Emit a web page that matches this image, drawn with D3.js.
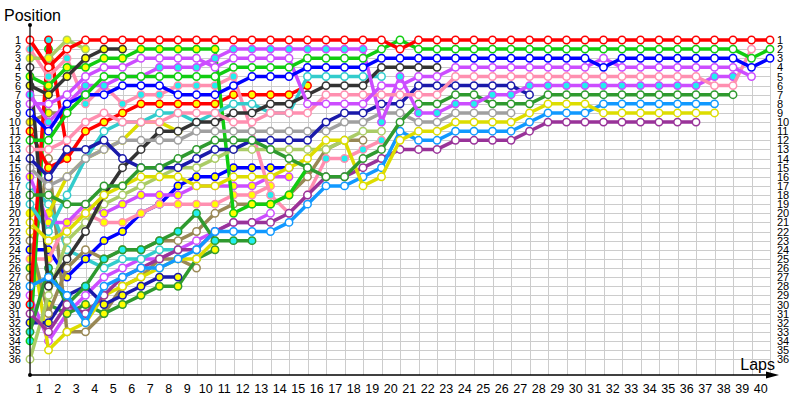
<!DOCTYPE html>
<meta charset="utf-8">
<style>
body { margin: 0; background: #fff; }
text { font-family: "Liberation Sans", Arial, sans-serif; fill: #000; }
.grid line { stroke: #cccccc; stroke-width: 1; shape-rendering: crispEdges; }
</style>
<body>
<svg width="800" height="400"></svg>
<script src="https://d3js.org/d3.v7.min.js"></script>
<script>

// lap labels on the x axis and position labels on both sides
var lapLabels = [1,2,3,4,5,6,7,8,9,10,11,12,13,14,15,16,17,18,19,20,
                 21,22,23,24,25,26,27,28,29,30,31,32,33,34,35,36,37,38,39,40];
var posLabels = [1,2,3,4,5,6,7,8,9,10,11,12,13,14,15,16,17,18,
                 19,20,21,22,23,24,25,26,27,28,29,30,31,32,33,34,35,36];

// position of each car at the start (index 0) and after every lap
var red      = [1,4,2,1,1,1,1,1,1,1,1,1,1,1,1,1,1,1,1,1,2,1,1,1,1,1,1,1,1,1,1,1,1,1,1,1,1,1,1,1,1];
var green    = [12,12,9,7,5,5,5,5,5,5,5,4,4,4,4,3,3,3,3,2,1,2,2,2,2,2,2,2,2,2,2,2,2,2,2,2,2,2,2,3,2];
var blue     = [9,11,8,7,7,6,6,6,7,7,7,6,5,5,5,4,4,4,4,3,3,3,3,3,3,3,3,3,3,3,3,4,3,3,3,3,3,3,3,4,3];
var violet   = [8,8,7,5,4,4,3,3,3,3,4,3,3,3,3,8,8,8,8,6,6,5,5,4,4,4,4,4,4,4,4,3,4,4,4,4,4,4,4,5];
var pink     = [13,13,12,10,9,10,10,10,9,9,9,10,10,9,9,9,7,7,7,7,7,7,7,5,5,5,5,5,5,5,5,5,5,5,5,5,5,6,6,2];
var violetC  = [7,10,8,6,6,5,5,4,4,4,3,2,2,2,2,2,2,2,2,10,5,9,9,8,8,7,7,6,6,6,6,6,6,6,6,6,6,5,5];
var forest   = [18,18,19,19,17,17,15,15,14,13,12,12,12,13,14,15,16,16,14,13,10,8,8,7,7,8,8,8,7,7,7,7,7,7,7,7,7,7,7];
var yellow   = [21,23,22,20,18,17,16,16,16,17,17,16,16,16,15,14,12,12,17,16,12,11,11,10,10,10,10,9,8,8,8,9,9,9,9,9,9,9];
var sky      = [28,27,29,32,28,27,26,26,25,24,22,22,22,22,21,19,17,17,16,15,11,12,12,11,11,11,11,10,9,9,9,8,8,8,8,8,8,8];
var plum     = [31,33,30,31,29,27,26,25,24,24,22,21,21,21,20,18,16,16,15,14,13,13,13,12,12,12,12,11,10,10,10,10,10,10,10,10,10];
var navy     = [14,16,13,13,12,14,15,15,15,14,13,13,12,12,12,12,10,9,9,8,8,6,6,6,6,6,6,7];
var grey     = [15,17,16,14,13,12,12,12,12,11,11,11,11,11,11,11,11,10,10,9,9,10,10,9,9,9,9];
var black    = [4,28,25,22,18,15,13,11,11,10,10,9,9,8,8,7,6,6,6,4,4,4,4];
var teal     = [19,22,18,14,11,10,10,9,9,10,9,8,8,9,9,5,5,5,5,5];
var olive    = [36,29,23,21,19,18,17,16,15,15,14,13,13,13,13,13,13,12,11,11];
var oliveY   = [3,3,1,2];
var blackY   = [6,7,5,3,2,2];
var greenY   = [5,6,4,4,3,3,2,2,2,2,2,20,19,19,18,15];
var pinkC    = [2,5,3,8,6,8,7,7,6,6,6,5,11,18,20,18,14,14,13,12];
var redY     = [11,15,14,11,10,9,8,8,8,8,8,7,7,7,7,6];
var redC     = [30,1,13];
var forestC  = [33,26,30,28,25,24,24,23,22,20,23,23,23];
var greenC   = [34,2];
var khaki    = [23,31,26,24,25,24,24,23,23,22,20,19,19,19,18,16,13,12,12];
var khakiY   = [10,9,9];
var violetY  = [16,21,21,19,20,19,18,18,18,17,17,17,17,16,16];
var yellowY  = [20,20,16,14,13,12,10,10,11];
var pinkY    = [25,25,21,20,21,21,20,19,19,19,19,18,18,17];
var navyY    = [32,32,29,28,30,29,28,27,27];
var blueY    = [24,24,27,25,23,22,20,19,17,16,16,15,15,15,15];
var teal2    = [17,19,24,25,26,25,25,24,24];
var yellow2  = [22,35,33,32,29,28,27,26,25,25,23];
var forestY  = [26,30,31,30,31,30,29,28,28,25,24];
var khaki2   = [27,14,33,33,31,28,27,25,25,26];
var violet2  = [29,34,31,29,27,26,25,25,24,23,22,21,21,20];

var W = "#ffffff", YF = "#ffff00", CF = "#22eeee";
var series = [
  {pos: red, stroke: "#ff0000", fill: W},
  {pos: green, stroke: "#11cc11", fill: W},
  {pos: blue, stroke: "#0000ff", fill: W},
  {pos: violet, stroke: "#cc4dff", fill: W},
  {pos: pink, stroke: "#ff8fb0", fill: W},
  {pos: violetC, stroke: "#cc4dff", fill: CF},
  {pos: forest, stroke: "#2f9a2f", fill: W},
  {pos: yellow, stroke: "#dddd00", fill: W},
  {pos: sky, stroke: "#1199ff", fill: W},
  {pos: plum, stroke: "#993399", fill: W},
  {pos: navy, stroke: "#1a1aaa", fill: W},
  {pos: grey, stroke: "#a0a0a0", fill: W},
  {pos: black, stroke: "#333333", fill: W},
  {pos: teal, stroke: "#33cccc", fill: W},
  {pos: olive, stroke: "#aacc66", fill: W},
  {pos: oliveY, stroke: "#aacc66", fill: YF},
  {pos: blackY, stroke: "#333333", fill: YF},
  {pos: greenY, stroke: "#11cc11", fill: YF},
  {pos: pinkC, stroke: "#ff8fb0", fill: CF},
  {pos: redY, stroke: "#ff0000", fill: YF},
  {pos: redC, stroke: "#ff0000", fill: CF},
  {pos: forestC, stroke: "#2f9a2f", fill: CF},
  {pos: greenC, stroke: "#11cc11", fill: CF},
  {pos: khaki, stroke: "#998855", fill: W},
  {pos: khakiY, stroke: "#998855", fill: YF},
  {pos: violetY, stroke: "#cc4dff", fill: YF},
  {pos: yellowY, stroke: "#dddd00", fill: YF},
  {pos: pinkY, stroke: "#ff8fb0", fill: YF},
  {pos: navyY, stroke: "#1a1aaa", fill: YF},
  {pos: blueY, stroke: "#0000ff", fill: YF},
  {pos: teal2, stroke: "#33cccc", fill: W},
  {pos: yellow2, stroke: "#dddd00", fill: W},
  {pos: forestY, stroke: "#2f9a2f", fill: YF},
  {pos: khaki2, stroke: "#998855", fill: W},
  {pos: violet2, stroke: "#cc4dff", fill: W}
];

var svg = d3.select("svg");

var x = d3.scaleLinear().domain([0, 40]).range([30, 770]);
var y = d3.scaleLinear().domain([1, 36]).range([40, 359.2]);
var band = d3.scaleBand().domain(lapLabels).range([30, 770]);

// grid
var grid = svg.append("g").attr("class", "grid");
grid.selectAll(".h").data(posLabels).join("line")
  .attr("x1", x(0)).attr("x2", x(40))
  .attr("y1", d => Math.round(y(d)) + 0.5).attr("y2", d => Math.round(y(d)) + 0.5);
grid.selectAll(".v").data([0].concat(lapLabels)).join("line")
  .attr("x1", d => Math.round(x(d)) + 0.5).attr("x2", d => Math.round(x(d)) + 0.5)
  .attr("y1", y(1)).attr("y2", 375);

// position labels
svg.append("g")
  .attr("transform", "translate(21,0)")
  .call(d3.axisLeft(y).tickValues(posLabels).tickSize(0).tickPadding(0))
  .call(g => g.select(".domain").remove())
  .selectAll("text").style("font-size", "11px").attr("fill", "#000");
svg.append("g")
  .attr("transform", "translate(777,0)")
  .call(d3.axisRight(y).tickValues(posLabels).tickSize(0).tickPadding(0))
  .call(g => g.select(".domain").remove())
  .selectAll("text").style("font-size", "11px").attr("fill", "#000");

// race lines, leaders drawn last so they sit on top
var line = d3.line().defined(d => d != null).x((d, i) => x(i)).y(d => y(d));
series.slice().reverse().forEach(function(s) {
  var g = svg.append("g");
  g.append("path")
    .attr("d", line(s.pos))
    .attr("fill", "none")
    .attr("stroke", s.stroke)
    .attr("stroke-width", 3.5)
    .attr("stroke-linejoin", "round");
  g.selectAll("circle").data(s.pos).join("circle")
    .attr("cx", (d, i) => x(i))
    .attr("cy", d => y(d))
    .attr("r", 3.7)
    .attr("fill", s.fill)
    .attr("stroke", s.stroke)
    .attr("stroke-width", 1.5);
});

// x axis with lap numbers between grid lines
var xAxis = svg.append("g")
  .attr("transform", "translate(0,375)")
  .call(d3.axisBottom(band).tickSize(0).tickPadding(9));
xAxis.select(".domain").attr("stroke", "#000").attr("stroke-width", 1.5).attr("d", "M30,0H772");
xAxis.selectAll("text").style("font-size", "12.5px").attr("fill", "#000");
svg.append("path").attr("d", "M766,371.5L779,375L766,378.5Z").attr("fill", "#000");

// y axis
svg.append("line").attr("x1", 30).attr("x2", 30).attr("y1", 25).attr("y2", 375)
  .attr("stroke", "#000").attr("stroke-width", 1.2);
svg.append("circle").attr("cx", 30).attr("cy", 25).attr("r", 2).attr("fill", "#000");
svg.append("circle").attr("cx", 30).attr("cy", 375).attr("r", 2).attr("fill", "#000");

svg.append("text").attr("x", 4).attr("y", 21).style("font-size", "16px").text("Position");
svg.append("text").attr("x", 775).attr("y", 370).attr("text-anchor", "end").style("font-size", "16px").text("Laps");

</script>
</body>
